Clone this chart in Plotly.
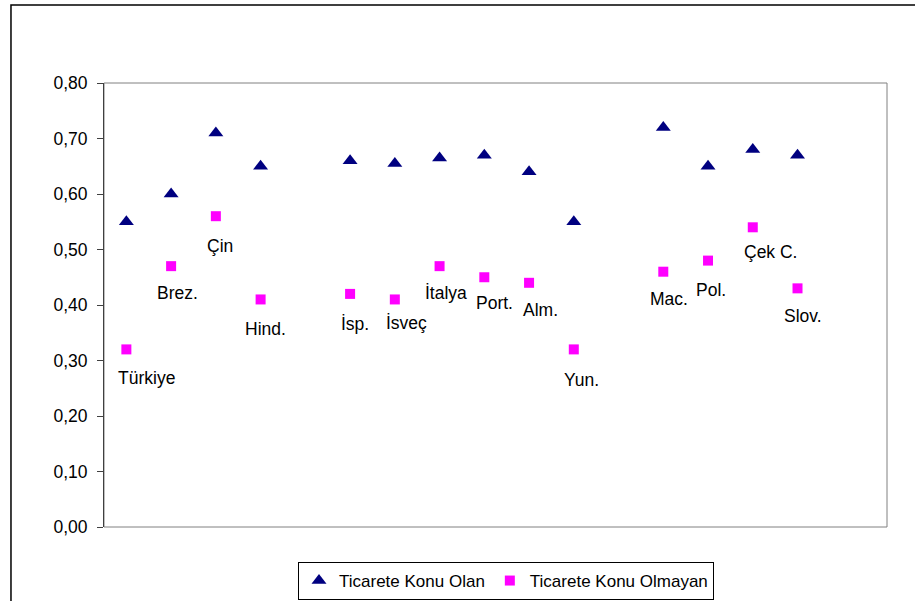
import plotly.graph_objects as go

# ---- data ----
countries = ["Türkiye", "Brez.", "Çin", "Hind.", "İsp.", "İsveç", "İtalya",
             "Port.", "Alm.", "Yun.", "Mac.", "Pol.", "Çek C.", "Slov."]
x_index = [1, 2, 3, 4, 6, 7, 8, 9, 10, 11, 13, 14, 15, 16]
ticarete_konu_olan = [0.55, 0.60, 0.71, 0.65, 0.66, 0.655, 0.665, 0.67, 0.64,
                      0.55, 0.72, 0.65, 0.68, 0.67]
ticarete_konu_olmayan = [0.32, 0.47, 0.56, 0.41, 0.42, 0.41, 0.47, 0.45, 0.44,
                         0.32, 0.46, 0.48, 0.54, 0.43]
y_ticks = [0.0, 0.1, 0.2, 0.3, 0.4, 0.5, 0.6, 0.7, 0.8]

# label offsets (pixels: right, down) relative to the square markers
label_dx = [20, 6, 4, 5, 5, 12, 6, 10, 11, 8, 6, 3, 18, 5]
label_dy = [29, 27, 30, 30, 30, 24, 27, 26, 27, 31, 27, 29, 25, 28]

FONT = "Liberation Sans, Arial, sans-serif"

fig = go.Figure()
fig.add_trace(go.Scatter(
    x=x_index, y=ticarete_konu_olan, mode="markers", name="Ticarete Konu Olan",
    marker=dict(symbol="triangle-up", size=13, color="#000080", line=dict(width=0)),
))
fig.add_trace(go.Scatter(
    x=x_index, y=ticarete_konu_olmayan, mode="markers", name="Ticarete Konu Olmayan",
    marker=dict(symbol="square", size=10, color="#FF00FF", line=dict(width=0)),
))

for c, xi, yv, dx, dy in zip(countries, x_index, ticarete_konu_olmayan, label_dx, label_dy):
    fig.add_annotation(x=xi, y=yv, text=c, showarrow=False, xshift=dx, yshift=-dy,
                       xanchor="center", yanchor="middle",
                       font=dict(family=FONT, size=17.5, color="#000000"))

# plot-area border (grey)
fig.add_shape(type="rect", xref="paper", yref="paper", x0=0, y0=0, x1=1, y1=1,
              line=dict(color="#808080", width=1), layer="below")
# outer chart frame (partially visible: left and top)
fig.add_shape(type="path", xref="paper", yref="paper",
              path="M -0.1188,-0.25 L -0.1188,1.1757 L 1.2,1.1757",
              line=dict(color="#000000", width=1.5))

fig.update_layout(
    width=915, height=601,
    margin=dict(l=104, r=28, t=83, b=74, autoexpand=False),
    paper_bgcolor="white", plot_bgcolor="white",
    separators=",.",
    font=dict(family=FONT, size=17, color="#000000"),
    showlegend=True,
    legend=dict(orientation="h", xref="container", yref="container",
                x=0.553, xanchor="center", y=0.0649, yanchor="top",
                bordercolor="#000000", borderwidth=1, bgcolor="white",
                font=dict(family=FONT, size=17), itemwidth=30,
                tracegroupgap=0),
    xaxis=dict(range=[0.5, 18.0], showgrid=False, zeroline=False, showticklabels=False,
               ticks="", showline=False, automargin=False),
    yaxis=dict(range=[0, 0.8], tickvals=y_ticks, tickformat=".2f", showgrid=False,
               zeroline=False, showline=True, linecolor="#404040", linewidth=1,
               ticks="outside", ticklen=6, tickcolor="#404040",
               ticklabelstandoff=6, automargin=False,
               tickfont=dict(family=FONT, size=17.5, color="#000000")),
)

fig.write_html("out.html", config={"displayModeBar": False},
               post_script="document.body.style.margin='0px';")
